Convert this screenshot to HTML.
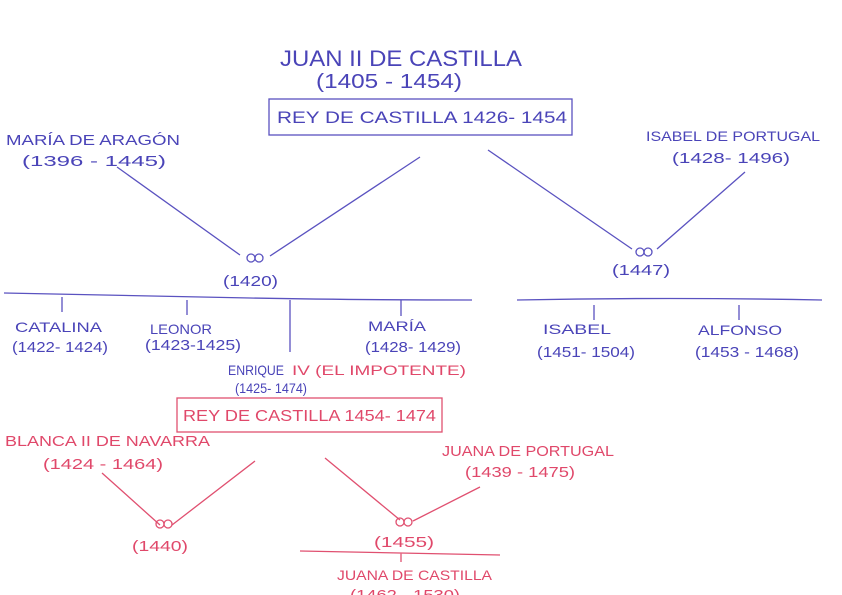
<!DOCTYPE html>
<html><head><meta charset="utf-8"><style>
html,body{margin:0;padding:0;background:#fff;}
svg{display:block;}
text{font-family:"Liberation Sans",sans-serif;}
.b{fill:#4a44b8;}
.p{fill:#e0486a;}
.lb{stroke:#5a52c0;stroke-width:1.3;fill:none;}
.lp{stroke:#e05070;stroke-width:1.3;fill:none;}
</style></head><body>
<svg width="842" height="595" viewBox="0 0 842 595" xmlns="http://www.w3.org/2000/svg">
<rect width="842" height="595" fill="#fff"/>
<!-- top -->
<text class="b" x="280" y="66" font-size="22" textLength="242" lengthAdjust="spacingAndGlyphs">JUAN II DE CASTILLA</text>
<text class="b" x="316" y="88" font-size="20" textLength="146" lengthAdjust="spacingAndGlyphs">(1405 - 1454)</text>
<rect class="lb" x="269" y="99" width="303" height="36"/>
<text class="b" x="277" y="123" font-size="17" textLength="290" lengthAdjust="spacingAndGlyphs">REY DE CASTILLA  1426- 1454</text>

<text class="b" x="6" y="145" font-size="15" textLength="174" lengthAdjust="spacingAndGlyphs">MARÍA DE ARAGÓN</text>
<text class="b" x="22" y="166" font-size="15" textLength="144" lengthAdjust="spacingAndGlyphs">(1396 - 1445)</text>
<path class="lb" d="M117 167 L240 255 M420 157 L270 256"/>
<circle class="lb" cx="251" cy="258" r="4"/><circle class="lb" cx="259" cy="258" r="4"/>
<text class="b" x="223" y="286" font-size="15" textLength="55" lengthAdjust="spacingAndGlyphs">(1420)</text>

<text class="b" x="646" y="141" font-size="14" textLength="174" lengthAdjust="spacingAndGlyphs">ISABEL DE PORTUGAL</text>
<text class="b" x="672" y="163" font-size="15" textLength="118" lengthAdjust="spacingAndGlyphs">(1428- 1496)</text>
<path class="lb" d="M488 150 L632 249 M745 172 L657 249"/>
<circle class="lb" cx="640" cy="252" r="4"/><circle class="lb" cx="648" cy="252" r="4"/>
<text class="b" x="612" y="275" font-size="15" textLength="58" lengthAdjust="spacingAndGlyphs">(1447)</text>

<path class="lb" d="M4 293 Q150 296 250 298 T472 300" stroke-width="2"/>
<path class="lb" d="M517 300 Q670 297 822 300" stroke-width="1.8"/>
<path class="lb" d="M62 297 V312 M187 300 V315 M290 300 V352 M401 300 V316 M594 305 V320 M739 305 V320"/>

<text class="b" x="15" y="332" font-size="14" textLength="87" lengthAdjust="spacingAndGlyphs">CATALINA</text>
<text class="b" x="12" y="352" font-size="15" textLength="96" lengthAdjust="spacingAndGlyphs">(1422- 1424)</text>
<text class="b" x="150" y="334" font-size="14" textLength="62" lengthAdjust="spacingAndGlyphs">LEONOR</text>
<text class="b" x="145" y="350" font-size="15" textLength="96" lengthAdjust="spacingAndGlyphs">(1423-1425)</text>
<text class="b" x="368" y="331" font-size="14" textLength="58" lengthAdjust="spacingAndGlyphs">MARÍA</text>
<text class="b" x="365" y="352" font-size="15" textLength="96" lengthAdjust="spacingAndGlyphs">(1428- 1429)</text>
<text class="b" x="543" y="334" font-size="14" textLength="68" lengthAdjust="spacingAndGlyphs">ISABEL</text>
<text class="b" x="537" y="357" font-size="15" textLength="98" lengthAdjust="spacingAndGlyphs">(1451- 1504)</text>
<text class="b" x="698" y="335" font-size="14" textLength="84" lengthAdjust="spacingAndGlyphs">ALFONSO</text>
<text class="b" x="695" y="357" font-size="15" textLength="104" lengthAdjust="spacingAndGlyphs">(1453 - 1468)</text>

<text class="b" x="228" y="375" font-size="14" textLength="56" lengthAdjust="spacingAndGlyphs">ENRIQUE</text>
<text class="p" x="292" y="375" font-size="14" textLength="174" lengthAdjust="spacingAndGlyphs">IV (EL IMPOTENTE)</text>
<text class="b" x="235" y="393" font-size="14" textLength="72" lengthAdjust="spacingAndGlyphs">(1425- 1474)</text>
<rect class="lp" x="177" y="398" width="265" height="34"/>
<text class="p" x="183" y="421" font-size="16" textLength="253" lengthAdjust="spacingAndGlyphs">REY DE CASTILLA 1454- 1474</text>

<text class="p" x="5" y="446" font-size="15" textLength="205" lengthAdjust="spacingAndGlyphs">BLANCA II DE NAVARRA</text>
<text class="p" x="43" y="469" font-size="15" textLength="120" lengthAdjust="spacingAndGlyphs">(1424 - 1464)</text>
<path class="lp" d="M102 473 L160 525 M255 461 L172 525"/>
<circle class="lp" cx="160" cy="524" r="4"/><circle class="lp" cx="168" cy="524" r="4"/>
<text class="p" x="132" y="551" font-size="15" textLength="56" lengthAdjust="spacingAndGlyphs">(1440)</text>

<text class="p" x="442" y="456" font-size="15" textLength="172" lengthAdjust="spacingAndGlyphs">JUANA DE PORTUGAL</text>
<text class="p" x="465" y="477" font-size="15" textLength="110" lengthAdjust="spacingAndGlyphs">(1439 - 1475)</text>
<path class="lp" d="M325 458 L400 520 M480 487 L413 521"/>
<circle class="lp" cx="400" cy="522" r="4"/><circle class="lp" cx="408" cy="522" r="4"/>
<text class="p" x="374" y="547" font-size="15" textLength="60" lengthAdjust="spacingAndGlyphs">(1455)</text>
<path class="lp" d="M300 551 L500 555 M401 553 V562"/>
<text class="p" x="337" y="580" font-size="14" textLength="155" lengthAdjust="spacingAndGlyphs">JUANA DE CASTILLA</text>
<text class="p" x="350" y="600" font-size="15" textLength="110" lengthAdjust="spacingAndGlyphs">(1462 - 1530)</text>
</svg>
</body></html>
